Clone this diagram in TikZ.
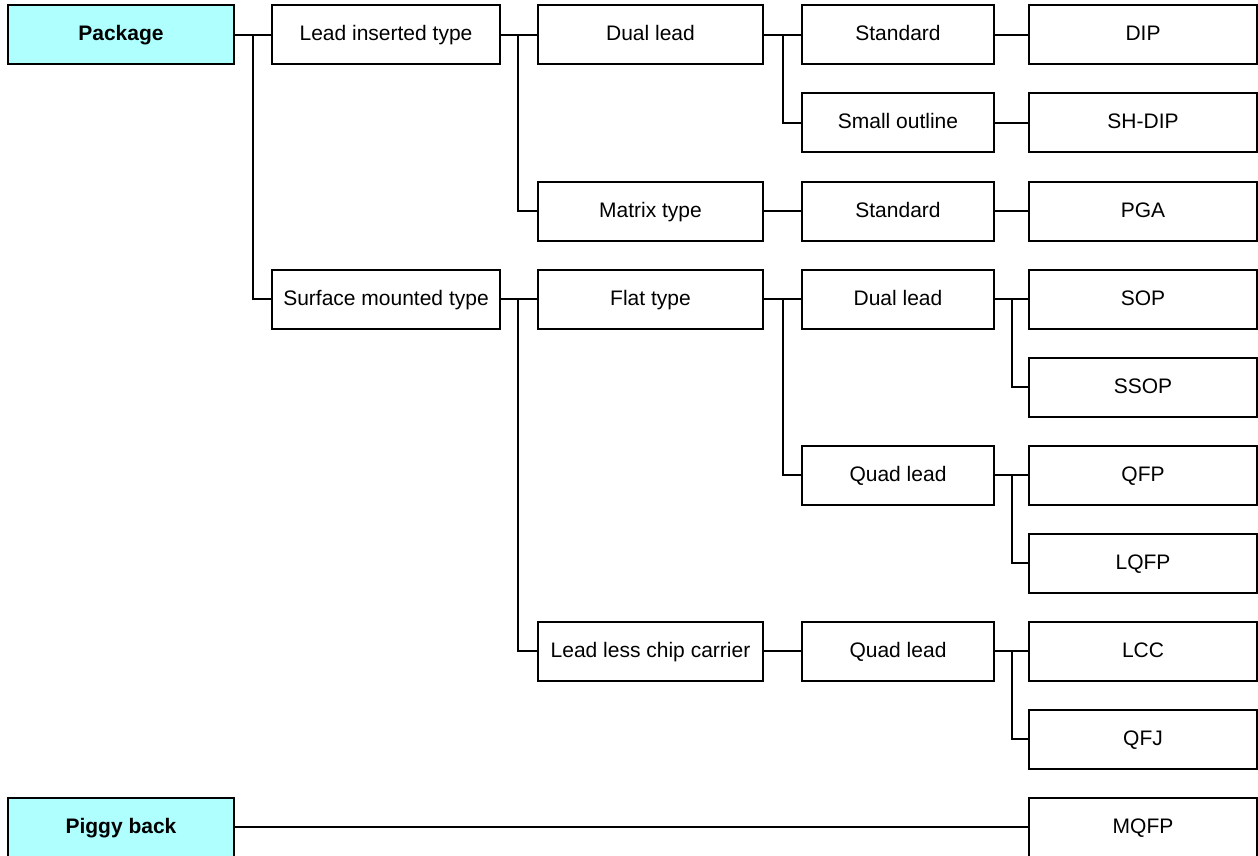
\documentclass[tikz,border=0pt]{standalone}
\usepackage{fontspec}
\setmainfont{Liberation Sans}
\definecolor{rootcyan}{RGB}{175,255,255}
\begin{document}
\begin{tikzpicture}[x=1pt,y=-1pt,
  box/.style={draw=black, line width=2pt, minimum height=59pt, inner sep=0pt,
    text height=16pt, text depth=4pt,
    font=\fontsize{21}{25}\selectfont, anchor=center},
  col1/.style={box, minimum width=226pt, fill=rootcyan, font=\fontsize{21}{25}\selectfont\bfseries},
  col2/.style={box, minimum width=228pt},
  col3/.style={box, minimum width=225pt},
  col4/.style={box, minimum width=192pt},
  col5/.style={box, minimum width=228pt},
  link/.style={draw=black, line width=2pt}]
\useasboundingbox (0,0) rectangle (1258,856);
% column 1
\node[col1] (pkg) at (121,35) {Package};
\node[col1] (pb) at (121,827) {Piggy back};
% column 2
\node[col2] (lit) at (386,35) {Lead inserted type};
\node[col2] (smt) at (386,299) {Surface mounted type};
% column 3
\node[col3] (dl1) at (650.5,35) {Dual lead};
\node[col3] (mt) at (650.5,211) {Matrix type};
\node[col3] (ft) at (650.5,299) {Flat type};
\node[col3] (llcc) at (650.5,651) {Lead less chip carrier};
% column 4
\node[col4] (std1) at (898,35) {Standard};
\node[col4] (so) at (898,123) {Small outline};
\node[col4] (std2) at (898,211) {Standard};
\node[col4] (dl2) at (898,299) {Dual lead};
\node[col4] (ql1) at (898,475) {Quad lead};
\node[col4] (ql2) at (898,651) {Quad lead};
% column 5
\node[col5] (dip) at (1143,35) {DIP};
\node[col5] (shdip) at (1143,123) {SH-DIP};
\node[col5] (pga) at (1143,211) {PGA};
\node[col5] (sop) at (1143,299) {SOP};
\node[col5] (ssop) at (1143,387) {SSOP};
\node[col5] (qfp) at (1143,475) {QFP};
\node[col5] (lqfp) at (1143,563) {LQFP};
\node[col5] (lcc) at (1143,651) {LCC};
\node[col5] (qfj) at (1143,739) {QFJ};
\node[col5] (mqfp) at (1143,827) {MQFP};
% junction points
\coordinate (j1) at (253,35);
\coordinate (j2) at (518,35);
\coordinate (j3) at (518,299);
\coordinate (j4) at (783,35);
\coordinate (j5) at (783,299);
\coordinate (j6) at (1012,299);
\coordinate (j7) at (1012,475);
\coordinate (j8) at (1012,651);
% connectors
\draw[link] (pkg.east) -- (lit.west);
\draw[link] (j1) |- (smt.west);
\draw[link] (lit.east) -- (dl1.west);
\draw[link] (j2) |- (mt.west);
\draw[link] (smt.east) -- (ft.west);
\draw[link] (j3) |- (llcc.west);
\draw[link] (dl1.east) -- (std1.west);
\draw[link] (j4) |- (so.west);
\draw[link] (mt.east) -- (std2.west);
\draw[link] (ft.east) -- (dl2.west);
\draw[link] (j5) |- (ql1.west);
\draw[link] (llcc.east) -- (ql2.west);
\draw[link] (std1.east) -- (dip.west);
\draw[link] (so.east) -- (shdip.west);
\draw[link] (std2.east) -- (pga.west);
\draw[link] (dl2.east) -- (sop.west);
\draw[link] (j6) |- (ssop.west);
\draw[link] (ql1.east) -- (qfp.west);
\draw[link] (j7) |- (lqfp.west);
\draw[link] (ql2.east) -- (lcc.west);
\draw[link] (j8) |- (qfj.west);
\draw[link] (pb.east) -- (mqfp.west);
\end{tikzpicture}
\end{document}
